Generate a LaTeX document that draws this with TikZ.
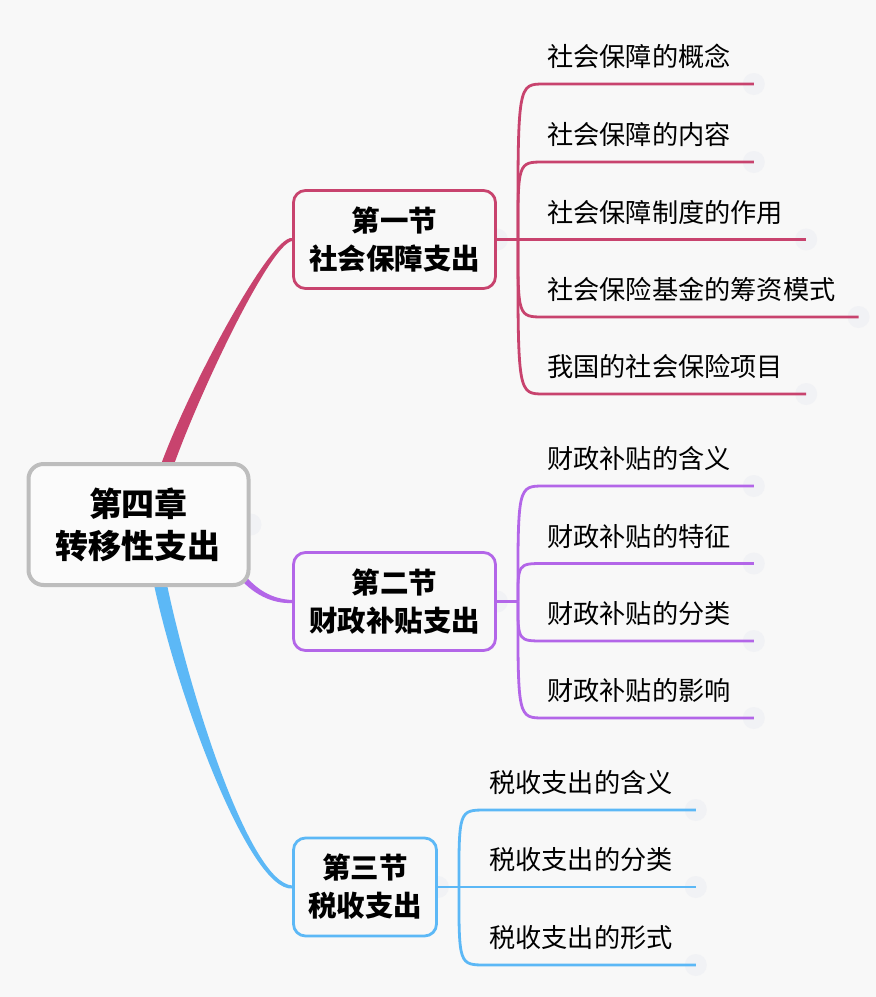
\documentclass[tikz,border=0pt]{standalone}
\usepackage{fontspec}
\setmainfont{Noto Sans CJK SC}
\usetikzlibrary{calc}
\pgfdeclarelayer{bg}
\pgfdeclarelayer{links}
\pgfsetlayers{bg,links,main}
\definecolor{paper}{HTML}{F8F8F8}
\definecolor{rootgray}{HTML}{BDBDBD}
\definecolor{secpink}{HTML}{C8436E}
\definecolor{secpurple}{HTML}{B366E8}
\definecolor{secblue}{HTML}{5CB8F6}
\definecolor{knob}{HTML}{F1F2F5}
\tikzset{
  rootbox/.style={draw=rootgray, line width=4pt, rounded corners=15pt,
    fill=white!50!paper, minimum width=220pt, minimum height=121pt,
    inner sep=0pt, align=center, font=\fontsize{33}{42}\selectfont\bfseries},
  secbox/.style={draw=#1, line width=2.8pt, rounded corners=12pt, fill=paper,
    minimum height=98pt, inner sep=0pt, align=center,
    font=\fontsize{28.5}{38}\selectfont\bfseries},
  leaf/.style={anchor=south west, inner xsep=0pt, inner ysep=17pt,
    text height=20pt, text depth=0pt, font=\fontsize{26.2}{30}\selectfont},
  link/.style={draw=#1, line width=2.8pt},
  knobmark/.style={fill=knob, draw=none}
}
\begin{document}
\begin{tikzpicture}[x=1pt,y=-1pt]
\useasboundingbox (0,0) rectangle (876,997);
\begin{pgfonlayer}{bg}
\fill[paper] (0,0) rectangle (876,997);
\end{pgfonlayer}

% main topic and sections
\node[rootbox] (root) at (138.5,524.5) {第四章\\转移性支出};
\node[secbox=secpink, minimum width=202pt] (sec1) at (394.5,239.5) {第一节\\社会保障支出};
\node[secbox=secpurple, minimum width=202pt] (sec2) at (394.5,601.5) {第二节\\财政补贴支出};
\node[secbox=secblue, minimum width=143pt] (sec3) at (365,887) {第三节\\税收支出};

\begin{pgfonlayer}{links}
\fill[knobmark] (root.east) circle (11pt);
% tapered branches from the main topic
\coordinate (r1) at ($(root.north)+(27,8)$);
\coordinate (r2) at ($(root.south east)+(-12,-15)$);
\coordinate (r3) at ($(root.south)+(21,-7)$);
\fill[secpink] ($(r1)+(-6.5,0)$) .. controls +(27,-77) and +(-22,-3) .. ($(sec1.west)+(0,-1.5)$)
  -- ($(sec1.west)+(0,1.5)$) .. controls +(-22,3) and +(27,-77) .. ($(r1)+(6.5,0)$) -- cycle;
\fill[secpurple] ($(r2)+(-2.4,1.8)$) .. controls +(15,20) and +(-20,1) .. ($(sec2.west)+(0,1.5)$)
  -- ($(sec2.west)+(0,-1.5)$) .. controls +(-20,-1) and +(15,20) .. ($(r2)+(2.4,-1.8)$) -- cycle;
\fill[secblue] ($(r3)+(-6.5,0)$) .. controls +(25,120) and +(-42,3) .. ($(sec3.west)+(0,1.5)$)
  -- ($(sec3.west)+(0,-1.5)$) .. controls +(-42,-3) and +(25,120) .. ($(r3)+(6.5,0)$) -- cycle;

% first section
\fill[knobmark] (sec1.east) circle (11pt);
\draw[link=secpink] (sec1.east) -- ++(21,0) coordinate (s1);
\foreach \i/\y/\t in {1/84/社会保障的概念, 2/162/社会保障的内容, 3/239.5/社会保障制度的作用,
    4/317/社会保险基金的筹资模式, 5/394/我国的社会保险项目}{
  \node[leaf] (sb\i) at (547,\y) {\t};
  \fill[knobmark] ($(sb\i.south east)+(23,0)$) circle (11pt);
  \draw[link=secpink] (s1) .. controls (s1 |- sb\i.south) .. ($(sb\i.south west)+(-3,0)$)
    -- ($(sb\i.south east)+(23,0)$);
}

% second section
\fill[knobmark] (sec2.east) circle (11pt);
\draw[link=secpurple] (sec2.east) -- ++(21,0) coordinate (s2);
\foreach \i/\y/\t in {1/486/财政补贴的含义, 2/563.5/财政补贴的特征, 3/641/财政补贴的分类,
    4/718/财政补贴的影响}{
  \node[leaf] (bt\i) at (547,\y) {\t};
  \fill[knobmark] ($(bt\i.south east)+(23,0)$) circle (11pt);
  \draw[link=secpurple] (s2) .. controls (s2 |- bt\i.south) .. ($(bt\i.south west)+(-3,0)$)
    -- ($(bt\i.south east)+(23,0)$);
}

% third section
\fill[knobmark] (sec3.east) circle (11pt);
\draw[link=secblue] (sec3.east) -- ++(21,0) coordinate (s3);
\foreach \i/\y/\t in {1/810/税收支出的含义, 2/887/税收支出的分类, 3/965/税收支出的形式}{
  \node[leaf] (ss\i) at (489,\y) {\t};
  \fill[knobmark] ($(ss\i.south east)+(23,0)$) circle (11pt);
  \draw[link=secblue] (s3) .. controls (s3 |- ss\i.south) .. ($(ss\i.south west)+(-3,0)$)
    -- ($(ss\i.south east)+(23,0)$);
}
\end{pgfonlayer}
\end{tikzpicture}
\end{document}
